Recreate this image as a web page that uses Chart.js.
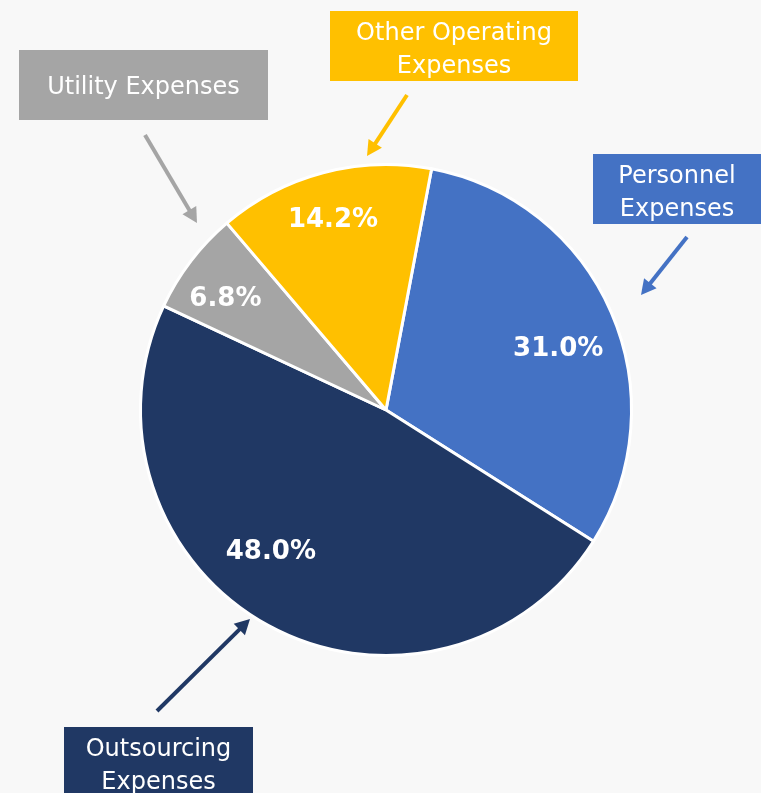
<!DOCTYPE html>
<html>
<head>
<meta charset="utf-8">
<script src="https://cdn.jsdelivr.net/npm/chart.js@4.4.1/dist/chart.umd.min.js"></script>
<style>
  html, body { margin: 0; padding: 0; background: #f8f8f8; }
  #wrap { width: 761px; height: 793px; }
</style>
</head>
<body>
<div id="wrap"><canvas id="expenseChart" width="761" height="793"></canvas></div>
<script>
// dados do gráfico
const categories = ['Personnel Expenses', 'Outsourcing Expenses', 'Utility Expenses', 'Other Operating Expenses'];
const shares = [31.0, 48.0, 6.8, 14.2]; // % of total
const sliceColors = ['#4472C4', '#203864', '#A5A5A5', '#FFC000'];

// caixas de legenda com setas (posição de cada uma)
const callouts = [
  { lines: ['Personnel', 'Expenses'], box: [593, 154, 168, 70], from: [687, 237], to: [641, 295] },
  { lines: ['Outsourcing', 'Expenses'], box: [64, 727, 189, 70], from: [157, 711], to: [250, 619] },
  { lines: ['Utility Expenses'], box: [19, 50, 249, 70], from: [145, 135], to: [197, 223] },
  { lines: ['Other Operating', 'Expenses'], box: [330, 11, 248, 70], from: [407, 95], to: [367, 156] }
];
// posição dos percentuais: fração do raio e desvio angular (graus)
const labelRadius = [0.747, 0.739, 0.80, 0.81];
const labelShift = [3.4, 10.7, -2.2, -0.6];

function arrow(ctx, x1, y1, x2, y2, color) {
  const ang = Math.atan2(y2 - y1, x2 - x1);
  const head = 15, half = 8;
  const bx = x2 - head * Math.cos(ang), by = y2 - head * Math.sin(ang);
  ctx.strokeStyle = color;
  ctx.lineWidth = 4;
  ctx.beginPath();
  ctx.moveTo(x1, y1);
  ctx.lineTo(bx + Math.cos(ang), by + Math.sin(ang));
  ctx.stroke();
  ctx.fillStyle = color;
  ctx.beginPath();
  ctx.moveTo(x2, y2);
  ctx.lineTo(bx - half * Math.sin(ang), by + half * Math.cos(ang));
  ctx.lineTo(bx + half * Math.sin(ang), by - half * Math.cos(ang));
  ctx.closePath();
  ctx.fill();
}

const calloutPlugin = {
  id: 'callouts',
  afterDatasetsDraw(chart) {
    const ctx = chart.ctx;
    const meta = chart.getDatasetMeta(0);
    ctx.save();
    // percentuais dentro das fatias
    ctx.font = 'bold 26px "DejaVu Sans"';
    ctx.fillStyle = '#ffffff';
    ctx.textAlign = 'center';
    ctx.textBaseline = 'middle';
    meta.data.forEach((arc, i) => {
      const mid = (arc.startAngle + arc.endAngle) / 2 + labelShift[i] * Math.PI / 180;
      const r = arc.outerRadius * labelRadius[i];
      ctx.fillText(shares[i].toFixed(1) + '%', arc.x + r * Math.cos(mid), arc.y + r * Math.sin(mid) + 2);
    });
    // caixas + setas
    callouts.forEach((c, i) => {
      const [x, y, w, h] = c.box;
      ctx.fillStyle = sliceColors[i];
      ctx.fillRect(x, y, w, h);
      ctx.fillStyle = '#ffffff';
      ctx.font = '24px "DejaVu Sans"';
      const cx = x + w / 2;
      if (c.lines.length === 1) {
        ctx.fillText(c.lines[0], cx, y + h / 2 + 3);
      } else {
        ctx.fillText(c.lines[0], cx, y + 23);
        ctx.fillText(c.lines[1], cx, y + 56);
      }
      arrow(ctx, c.from[0], c.from[1], c.to[0], c.to[1], sliceColors[i]);
    });
    ctx.restore();
  }
};

new Chart(document.getElementById('expenseChart').getContext('2d'), {
  type: 'pie',
  data: {
    labels: categories,
    datasets: [{
      data: shares,
      backgroundColor: sliceColors,
      borderColor: '#ffffff',
      borderWidth: 3
    }]
  },
  options: {
    responsive: false,
    animation: false,
    rotation: 10.7,
    layout: { padding: { left: 139, right: 128, top: 163, bottom: 136 } },
    plugins: {
      legend: { display: false },
      tooltip: { enabled: false }
    }
  },
  plugins: [calloutPlugin]
});
</script>
</body>
</html>
